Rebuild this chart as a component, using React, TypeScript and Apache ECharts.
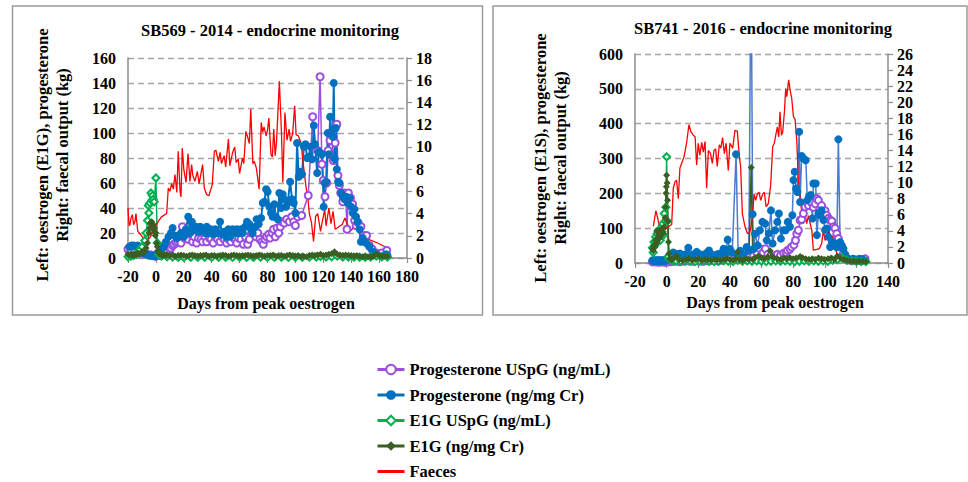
import React, { useEffect, useRef } from "react";
import * as echarts from "echarts";

// ---------- Legend / series names ----------
const seriesNames = [
  "Progesterone USpG (ng/mL)",
  "Progesterone (ng/mg Cr)",
  "E1G USpG (ng/mL)",
  "E1G (ng/mg Cr)",
  "Faeces",
];

// ---------- SB569 - 2014 (left panel) [day, value] ----------
const sb569ProgUSpG: [number, number][] = [
  [-20, 7], [-18, 6], [-15, 5], [-12, 4], [-9, 3.5], [-7, 3.5], [-4, 2.5], [-2, 2], [0, 1.5], [2, 2],
  [4.8, 4], [6.5, 5], [8.4, 5], [10, 7], [10.8, 8], [12, 10], [13, 11], [14.5, 12], [15.6, 13], [17, 14],
  [18, 12], [19, 25], [20.3, 16], [21.5, 20], [23.2, 15], [24.6, 19], [26.3, 13], [27.5, 17], [29.2, 12],
  [30.6, 16], [32.3, 15], [33.5, 13], [35.2, 17], [36.4, 13], [38.3, 16], [39.5, 15], [41.1, 12], [42.6, 17],
  [44.3, 15], [46, 13], [47.4, 17], [49, 15], [50.7, 12], [52.2, 15], [53.8, 13], [55, 17], [56.7, 15],
  [58, 12], [59.3, 16], [61, 15], [62.7, 11], [64.1, 17], [65.8, 11], [67, 15], [68.7, 20], [70.6, 19],
  [71.8, 17], [73, 20], [74.6, 15], [76, 13], [77, 11], [78.2, 15], [79.4, 17], [80.9, 19], [81.8, 16],
  [83.3, 20], [84.4, 23], [85.6, 17], [86.8, 24], [88, 20], [89.2, 25], [90.4, 29], [92, 28], [93.8, 31],
  [95.7, 29], [97.4, 33], [98.8, 29], [100, 26], [101.7, 33], [104.5, 34], [109.2, 50], [112.4, 113],
  [113.5, 88], [116, 86], [117.7, 145], [119, 75], [120, 62], [121.2, 49], [122.5, 60], [123.5, 86],
  [124.8, 94], [126, 100], [127.2, 78], [128.5, 92], [129.7, 107], [130.5, 66], [131.5, 58], [132.5, 52],
  [134, 45], [135, 52], [136, 50], [137, 23], [138, 52], [139.5, 48], [141, 43], [142.5, 30], [143.5, 26],
  [145, 28], [147, 25], [149, 18], [151, 18], [153, 10], [155, 7], [158, 4], [162, 4], [165.5, 6],
];

const sb569ProgCr: [number, number][] = [
  [-20.3, 8], [-19, 9], [-17.5, 10], [-16, 10], [-14.5, 9], [-13, 10], [-11, 6], [-9, 4], [-7, 3], [-5, 2],
  [-3.5, 2], [-2, 1.5], [-0.5, 1.3], [1.2, 4], [3, 6], [4.8, 8], [6, 10], [7.2, 13], [9, 17], [10.8, 20],
  [12, 24], [13.5, 18], [14.8, 16], [16.5, 18], [18, 20], [20, 17], [21.5, 23], [23.2, 33], [24.6, 20],
  [25.8, 29], [27.5, 23], [28.7, 25], [30.4, 21], [31.8, 25], [33.5, 23], [35.2, 20], [36.4, 25], [37.8, 20],
  [39.5, 23], [41, 19], [42.6, 23], [44.3, 20], [46, 29], [47.4, 19], [49, 21], [50.2, 17], [52, 23],
  [53.3, 17], [55, 23], [56.7, 20], [58, 23], [59.3, 20], [61, 23], [62.2, 20], [63.9, 25], [65.3, 29],
  [67, 27], [68.2, 23], [69.4, 20], [71.3, 25], [72.2, 31], [73.7, 27], [75.4, 32], [76.6, 44], [77.8, 45],
  [79, 55], [80.1, 53], [81.3, 41], [82.5, 36], [83.7, 33], [84.9, 43], [86, 33], [87.3, 31], [88.5, 52],
  [89.7, 40], [90.9, 51], [92, 47], [93.3, 41], [94.5, 44], [96.2, 61], [97.6, 47], [98.8, 44], [100, 36],
  [101.2, 92], [102.4, 65], [103.6, 69], [104.8, 67], [106, 89], [107.2, 91], [108.4, 80], [109.6, 81],
  [110.8, 89], [112, 79], [113.2, 106], [114.1, 91], [115.6, 68], [116.7, 85], [117.9, 84], [119.1, 83],
  [120.3, 41], [121, 60], [122, 61], [123.2, 100], [124, 83], [124.9, 113], [125.8, 101], [126.8, 97],
  [127.5, 140], [128.2, 79], [129, 104], [129.7, 71], [130.6, 61], [131.6, 60], [132.8, 52], [134, 49],
  [135.2, 47], [136.4, 49], [137.6, 44], [138.8, 48], [140, 41], [141.1, 36], [142.3, 39], [143.5, 33],
  [144.7, 29], [146, 23], [147, 13], [148.3, 16], [150.7, 12], [153, 9], [155.5, 5], [158, 3], [161.5, 1.3],
  [165, 3], [166, 2],
];

const sb569E1GUSpG: [number, number][] = [
  [-20, 1], [-18, 1.5], [-16, 2], [-14, 3], [-12, 6], [-10, 9], [-8, 14], [-7, 20], [-6, 30], [-5.4, 42],
  [-5, 36], [-4.3, 44], [-3.5, 52], [-3, 46], [-2.5, 50], [-1.9, 47], [-1.2, 45], [0, 64], [1, 12], [2, 3],
  [4, 1.5], [8, 1], [12, 0.8], [16, 0.6], [20, 0.5], [25, 0.6], [30, 0.5], [35, 0.6], [40, 0.5], [45, 0.5],
  [50, 0.6], [55, 0.5], [60, 0.6], [65, 0.5], [70, 0.5], [75, 0.6], [80, 0.5], [85, 0.5], [90, 0.6],
  [95, 0.5], [100, 0.5], [105, 0.6], [110, 0.7], [115, 0.8], [118, 1.2], [122, 0.8], [126, 1], [130, 1.5],
  [134, 0.8], [138, 0.8], [142, 0.7], [146, 0.6], [150, 0.6], [154, 0.8], [158, 1.5], [162, 1], [166, 0.8],
];

const sb569E1GCr: [number, number][] = [
  [-20, 3], [-19, 2.5], [-18, 3], [-17, 2], [-16, 3], [-15, 2.5], [-14, 3], [-13, 4], [-12, 3], [-11, 4],
  [-10, 5], [-9, 4], [-8, 6], [-7, 8], [-6, 12], [-5, 20], [-4.5, 24], [-4, 28], [-3.5, 27], [-3, 29],
  [-2.5, 25], [-2, 27], [-1.5, 22], [-1, 24], [-0.5, 18], [0, 20], [0.5, 12], [1, 9], [1.5, 6], [2, 4],
  [3, 3], [4, 2.5], [5, 2], [6, 3], [7, 2], [8, 2.5], [10, 2], [12, 2.5], [14, 1.5], [16, 2], [18, 2.5],
  [20, 2], [22, 1.5], [24, 2], [26, 2.5], [28, 2], [30, 1.5], [32, 2], [34, 2], [36, 2.5], [38, 1.5],
  [40, 2], [42, 2], [44, 1.5], [46, 2], [48, 2.5], [50, 2], [52, 1.5], [54, 2], [56, 2.5], [58, 2],
  [60, 1.5], [62, 2], [64, 2], [66, 2.5], [68, 2], [70, 1.5], [72, 2], [74, 2.5], [76, 2], [78, 1.5],
  [80, 2], [82, 2], [84, 2.5], [86, 1.5], [88, 2], [90, 2], [92, 1.5], [94, 2], [96, 2.5], [98, 2],
  [100, 1.5], [102, 2], [104, 1], [106, 1.5], [108, 1], [110, 2], [112, 2.5], [114, 2], [116, 2.5],
  [118, 3], [120, 2], [122, 2.5], [124, 3], [126, 3.5], [128, 5], [130, 3], [132, 2.5], [134, 2],
  [136, 2.5], [138, 2], [140, 2], [142, 1.5], [144, 2], [146, 1.5], [148, 1], [150, 1.5], [152, 1],
  [154, 1], [156, 1.5], [158, 3], [160, 2], [162, 1.5], [164, 1.5], [166, 1.5],
];

const sb569Faeces: [number, number][] = [
  [-20, 4.5], [-19.2, 2.9], [-18.6, 3.0], [-17.8, 3.6], [-16.9, 3.9], [-16, 3.0], [-15, 3.3], [-14.3, 4.0],
  [-13, 2.4], [-11, 2.1], [-9, 1.8], [-6.6, 1.45], [-4, 1.9], [-1, 2.7], [1.7, 3.3], [4, 3.7], [7.7, 4.0],
  [8.9, 6.3], [10, 6.0], [11.3, 6.7], [12.5, 6.2], [13.7, 7.5], [15, 5.9], [16, 9.6], [17.3, 6.0],
  [18, 5.5], [18.9, 9.9], [20, 8.0], [21.6, 6.8], [23, 9.4], [24.4, 6.9], [25.6, 8.4], [26.5, 7.4],
  [28, 6.9], [29.7, 7.8], [31, 6.7], [32.3, 7.6], [33.5, 8.4], [34.7, 6.3], [36.4, 5.7], [38, 5.6],
  [40.4, 6.6], [41.9, 9.6], [43, 9.7], [44.8, 8.7], [46, 9.5], [47, 8.5], [49, 9.2], [50, 8.2],
  [52, 10.7], [53, 8.3], [55, 9.5], [56.5, 10.0], [57.5, 8.6], [59, 8.9], [60, 7.6], [61, 8.3], [62, 9.0],
  [63, 8.5], [64.5, 11.4], [65.5, 11.0], [67, 10.3], [68, 13.4], [69.5, 8.5], [70.5, 8.7], [72, 8.1],
  [74, 6.2], [75.5, 12.2], [76.5, 11.3], [77.5, 11.8], [79, 11.0], [80, 11.5], [81, 12.6], [82.5, 9.3],
  [83.5, 9.1], [84.5, 11.6], [85.5, 9.2], [86.5, 10.5], [88.5, 15.9], [90, 11.3], [91, 6.8], [92.5, 13.1],
  [94, 10.6], [95.5, 11.6], [96.5, 10.5], [98, 11.2], [99.5, 13.7], [100.5, 11.1], [102, 11.0],
  [104, 10.4], [105.5, 8.6], [107.5, 6.5], [109, 5.3], [110, 4.0], [111.5, 3.2], [113, 1.5], [114.5, 3.75],
  [116, 4.0], [118, 2.4], [119, 3.1], [121, 4.35], [122, 2.9], [124, 4.5], [125.5, 3.1], [127, 4.2],
  [128.5, 2.6], [130, 2.7], [132, 2.9], [133.5, 3.0], [135.5, 3.6], [137, 3.1], [140, 2.5], [142, 2.8],
  [146, 2.2], [152, 1.7], [159, 1.35], [166, 0.9],
];

// ---------- SB741 - 2016 (right panel) [day, value] ----------
const sb741ProgUSpG: [number, number][] = [
  [-9, 3], [-7, 3], [-5, 2], [-3, 3], [-1, 2], [1, 3], [3, 4], [5, 5], [8, 4], [11, 5], [14, 6], [17, 5],
  [20, 6], [23, 5], [26, 6], [29, 7], [32, 6], [35, 8], [38, 12], [39.4, 17], [41, 20], [43, 15], [45, 18],
  [47, 22], [49, 17], [51, 20], [53, 25], [55, 22], [57, 30], [59, 41], [61, 30], [62.5, 41], [64, 25],
  [66, 22], [68, 20], [70, 25], [72, 22], [74, 28], [75.5, 30], [76.5, 36], [78, 40], [79, 46], [80.5, 52],
  [81.5, 65], [82.3, 84], [83.3, 94], [84.4, 123], [85.4, 125], [86.5, 142], [87.6, 161], [88.6, 175],
  [89.7, 165], [90.8, 180], [91.8, 172], [92.8, 160], [94, 170], [95, 185], [96, 180], [97, 156], [98, 165],
  [99.2, 142], [100.2, 150], [101.3, 137], [102.3, 128], [103.4, 123], [104.5, 120], [105.5, 104],
  [106.5, 100], [107.6, 84], [108.6, 70], [109.7, 56], [110.8, 45], [111.8, 27], [112.9, 20], [113.9, 10],
  [116, 8], [118, 8], [120, 6], [122, 8], [124, 10], [125.5, 12],
];

const sb741ProgCr: [number, number][] = [
  [-9, 7], [-8.5, 8], [-8, 6], [-7.5, 7], [-7, 8], [-6.5, 6], [-6, 7], [-5.5, 8], [-5, 6], [-4.5, 7],
  [-4, 8], [-3.5, 6], [-3, 7], [-2.5, 8], [-2, 7], [-1.5, 6], [-1, 8], [-0.5, 7], [0, 9], [1, 17], [2, 22],
  [3, 20], [4.2, 30], [5.5, 22], [7, 26], [8.5, 27], [10, 20], [12, 25], [13.7, 44], [15, 22], [17, 25],
  [19, 32], [21, 25], [23, 22], [25, 28], [26.8, 36], [28.5, 24], [30.5, 22], [32.5, 26], [34.5, 28],
  [36, 41], [37.5, 30], [38.6, 67], [40, 40], [41.5, 30], [43.9, 312], [45.3, 18], [46.5, 35], [48, 22],
  [50.6, 46], [52, 35], [53.4, 900], [54.4, 140], [55, 40], [55.9, 84], [57.5, 50], [59, 94], [60.6, 118],
  [62.3, 113], [63.3, 65], [64.6, 85], [66, 151], [67, 56], [68.6, 94], [70, 118], [71, 142], [72.3, 70],
  [73.8, 94], [75.3, 94], [76.6, 118], [78, 104], [79.5, 137], [80.2, 238], [81, 262], [81.9, 214],
  [82.7, 204], [83.8, 377], [84.4, 175], [85.4, 307], [86.5, 300], [88, 295], [89, 180], [90, 190],
  [91.1, 195], [92.2, 128], [92.8, 228], [94.3, 228], [95, 80], [96, 142], [97, 137], [98, 151],
  [99.2, 123], [100.2, 95], [101.3, 99], [102.3, 75], [103.4, 46], [104.5, 60], [105.5, 50], [106.5, 56],
  [107.6, 45], [108.6, 355], [109.7, 60], [110.8, 50], [111.8, 41], [112.9, 25], [113.9, 15], [116, 10],
  [118, 12], [120, 10], [122, 12], [124, 10], [125.5, 6],
];

const sb741E1GUSpG: [number, number][] = [
  [-9, 44], [-8.5, 30], [-8, 60], [-7.5, 50], [-7, 75], [-6.5, 60], [-6, 84], [-5.5, 70], [-5, 94],
  [-4.5, 80], [-4, 65], [-3.5, 100], [-3, 90], [-2.5, 113], [-2, 80], [-1.5, 142], [-1, 120], [-0.5, 160],
  [0, 305], [0.5, 120], [1, 17], [2, 10], [3, 12], [4, 8], [6, 6], [9, 5], [12, 6], [15, 5], [18, 4],
  [21, 5], [24, 6], [27, 5], [30, 4], [33, 5], [36, 6], [39, 5], [42, 4], [45, 8], [48, 5], [51, 6],
  [54, 5], [57, 6], [60, 5], [63, 4], [66, 5], [69, 6], [72, 5], [75, 6], [78, 5], [81, 4], [84, 5],
  [87, 6], [90, 5], [93, 6], [96, 5], [99, 6], [102, 5], [105, 8], [108, 10], [111, 15], [114, 8],
  [117, 6], [120, 5], [123, 4], [126, 4],
];

const sb741E1GCr: [number, number][] = [
  [-9, 41], [-8.5, 35], [-8, 50], [-7.5, 45], [-7, 65], [-6.5, 55], [-6.3, 92], [-6, 60], [-5.5, 75],
  [-5, 84], [-4.5, 70], [-4, 95], [-3.5, 80], [-3, 90], [-2.5, 100], [-2, 85], [-1.5, 104], [-1, 130],
  [-0.7, 161], [-0.4, 200], [-0.2, 219], [0, 252], [0.3, 230], [0.6, 180], [0.9, 120], [1.2, 60],
  [1.6, 27], [2, 12], [3, 10], [4, 12], [5, 15], [6, 20], [7, 14], [8, 10], [10, 8], [12, 10], [14, 12],
  [16, 8], [18, 10], [20, 12], [22, 8], [24, 10], [26, 9], [28, 8], [30, 10], [32, 9], [34, 8], [36, 10],
  [38, 12], [40, 10], [42, 8], [44, 12], [45, 32], [46, 10], [48, 8], [50, 12], [52, 10], [53.5, 274],
  [54.5, 10], [56, 15], [58, 20], [60, 15], [62, 12], [64, 18], [65.4, 35], [66.5, 20], [68, 15],
  [70, 12], [72, 10], [74, 14], [76, 12], [78, 15], [80, 12], [82, 14], [84.4, 19], [86, 15], [88, 12],
  [90, 10], [92, 12], [94, 10], [96, 14], [98, 12], [100, 10], [102, 12], [104, 14], [106, 10],
  [108, 20], [110, 14], [112, 10], [114, 8], [116, 6], [118, 5], [120, 4], [122, 5], [124, 4], [126, 4],
];

const sb741Faeces: [number, number][] = [
  [-8.4, 4.6], [-6.8, 6.5], [-5.3, 5.3], [-4.2, 3.7], [-3.5, 4.1], [-3, 3.9], [3.2, 4.8], [4.2, 9.3],
  [5.3, 10.1], [6.3, 10.3], [7.4, 8.0], [8.4, 11.8], [9.5, 12.4], [11, 13.2], [12.6, 14.9], [14.1, 17.2],
  [15.4, 16.3], [16.9, 15.9], [18, 15.7], [19, 12.2], [20, 14.9], [21, 13.4], [22.2, 15.0], [23.2, 13.8],
  [24.3, 15.1], [25.3, 9.3], [26.4, 14.0], [27.8, 13.6], [28.9, 12.4], [30, 14.0], [31, 14.2], [32, 12.0],
  [33.3, 14.7], [34.3, 14.3], [35.4, 15.6], [36.5, 13.6], [37.6, 14.9], [39, 11.5], [40, 14.9],
  [41.8, 14.3], [43.2, 16.5], [44.7, 16.4], [46, 13.2], [46.8, 12.0], [47.9, 6.1], [49.6, 4.5], [51, 3.7],
  [52.3, 3.7], [53.4, 4.5], [54.4, 6.1], [55.3, 8.6], [56.3, 7.8], [57.4, 8.6], [58.4, 8.8], [59.5, 7.8],
  [60.8, 8.6], [61.8, 8.8], [62.9, 7.0], [64.3, 7.4], [65.8, 9.7], [67.1, 14.5], [68.1, 14.9], [69.2, 16.1],
  [70, 16.9], [70.9, 15.7], [71.7, 18.8], [72.6, 15.9], [73.4, 16.3], [74.5, 18.8], [75.3, 21.7], [76, 20.7],
  [77.2, 22.8], [78.1, 21.5], [79.1, 20.5], [80.2, 18.2], [81.2, 17.9], [82.3, 15.3], [83.3, 10.3],
  [84.4, 8.2], [85.4, 6.4], [86.5, 4.9], [87.6, 6.1], [88.6, 4.9], [89.7, 5.9], [90.8, 4.9], [91.8, 4.1],
  [92.8, 1.6], [95, 1.7], [96.6, 1.8], [98, 2.4], [99.2, 4.1], [100.2, 2.8], [101.3, 3.4], [102.7, 4.1],
  [103.8, 2.8], [105, 3.4], [106.5, 2.0], [107.6, 1.2], [108.6, 0.75], [110.8, 0.75], [111.8, 0.33],
];

// ---------- Styling ----------
const FONT = '"Liberation Serif", "Times New Roman", serif';
const AXIS_GRAY = "#8C8C8C";
const GRID_GRAY = "#A6A6A6";
const PURPLE = "#9B4FE0";
const BLUE = "#0070C0";
const BLUE_LIGHT = "#4A7BD0";
const GREEN = "#00B050";
const DKGREEN = "#3B5E22";
const RED = "#FF0000";

const tickLabel = { fontFamily: FONT, fontSize: 16, fontWeight: "bold" as const, color: "#000" };

function xAxis(gridIndex: number, min: number, max: number) {
  return {
    type: "value",
    gridIndex,
    min,
    max,
    interval: 20,
    axisLine: { show: true, onZero: false, lineStyle: { color: AXIS_GRAY, width: 1.5 } },
    axisTick: { show: true, inside: false, length: 5, lineStyle: { color: AXIS_GRAY, width: 1.2 } },
    axisLabel: { ...tickLabel, margin: 10 },
    splitLine: { show: false },
  };
}

function yLeft(gridIndex: number, max: number, interval: number) {
  return {
    type: "value",
    gridIndex,
    position: "left",
    min: 0,
    max,
    interval,
    axisLine: { show: true, onZero: false, lineStyle: { color: AXIS_GRAY, width: 1.5 } },
    axisTick: { show: false },
    axisLabel: { ...tickLabel, margin: 12 },
    splitLine: { show: true, lineStyle: { color: GRID_GRAY, width: 1.3, type: [6, 4] } },
  };
}

function yRight(gridIndex: number, max: number, interval: number) {
  return {
    type: "value",
    gridIndex,
    position: "right",
    min: 0,
    max,
    interval,
    axisLine: { show: true, onZero: false, lineStyle: { color: AXIS_GRAY, width: 1.5 } },
    axisTick: { show: true, inside: false, length: 5, lineStyle: { color: AXIS_GRAY, width: 1.2 } },
    axisLabel: { ...tickLabel, margin: 9 },
    splitLine: { show: false },
  };
}

function mkSeries(panel: number, data: any) {
  const xi = panel;
  const yl = panel * 2;
  const yr = panel * 2 + 1;
  return [
    {
      name: seriesNames[0], type: "line", xAxisIndex: xi, yAxisIndex: yl, data: data.progUSpG,
      symbol: "emptyCircle", symbolSize: 7,
      lineStyle: { color: PURPLE, width: 1.5 },
      itemStyle: { color: PURPLE, borderColor: PURPLE, borderWidth: 1.3 },
    },
    {
      name: seriesNames[1], type: "line", xAxisIndex: xi, yAxisIndex: yl, data: data.progCr,
      symbol: "circle", symbolSize: 8,
      lineStyle: { color: panel === 0 ? BLUE : BLUE_LIGHT, width: panel === 0 ? 2 : 1.5 },
      itemStyle: { color: BLUE },
    },
    {
      name: seriesNames[2], type: "line", xAxisIndex: xi, yAxisIndex: yl, data: data.e1gUSpG,
      symbol: "emptyDiamond", symbolSize: 7,
      lineStyle: { color: GREEN, width: 1.5 },
      itemStyle: { color: GREEN, borderColor: GREEN, borderWidth: 1.2 },
    },
    {
      name: seriesNames[3], type: "line", xAxisIndex: xi, yAxisIndex: yl, data: data.e1gCr,
      symbol: "diamond", symbolSize: 7,
      lineStyle: { color: DKGREEN, width: 1.5 },
      itemStyle: { color: DKGREEN },
    },
    {
      name: seriesNames[4], type: "line", xAxisIndex: xi, yAxisIndex: yr, data: data.faeces,
      symbol: "none",
      lineStyle: { color: RED, width: 1.3 },
      itemStyle: { color: RED },
    },
  ];
}

const yTitle = "Left: oestrogen (E1G), progesterone\nRight: faecal output (kg)";
const yTitle2 = "Left: oestrogen (E1S), progesterone\nRight: faecal output (kg)";
const xTitle = "Days from peak oestrogen";
const title1 = "SB569 - 2014 - endocrine monitoring";
const title2 = "SB741 - 2016 - endocrine monitoring";

export default function App() {
  const ref = useRef<HTMLDivElement>(null);
  useEffect(() => {
    if (!ref.current) return;
    const chart = echarts.init(ref.current, undefined, { renderer: "svg" });
    const textBold = (x: number, y: number, text: string, size: number, rotation = 0) => ({
      type: "text",
      x,
      y,
      rotation,
      silent: true,
      style: {
        text,
        fontFamily: FONT,
        fontSize: size,
        fontWeight: "bold",
        fill: "#000",
        textAlign: "center",
        textVerticalAlign: "middle",
        lineHeight: 20,
      },
    });
    const option: any = {
      animation: false,
      backgroundColor: "#fff",
      textStyle: { fontFamily: FONT },
      grid: [
        { left: 128, top: 58, width: 279, height: 200 },
        { left: 635, top: 54, width: 253, height: 209 },
      ],
      xAxis: [xAxis(0, -20, 180), xAxis(1, -20, 140)],
      yAxis: [yLeft(0, 160, 20), yRight(0, 18, 2), yLeft(1, 600, 100), yRight(1, 26, 2)],
      legend: {
        orient: "vertical",
        left: 376,
        top: 361,
        padding: 0,
        itemGap: 8.5,
        itemWidth: 27,
        itemHeight: 12,
        data: [
          seriesNames[0],
          seriesNames[1],
          seriesNames[2],
          seriesNames[3],
          { name: seriesNames[4], itemStyle: { opacity: 0 } },
        ],
        selectedMode: false,
        lineStyle: { width: 3 },
        textStyle: { fontFamily: FONT, fontSize: 16.5, fontWeight: "bold", color: "#000", lineHeight: 17 },
      },
      graphic: [
        { type: "rect", silent: true, shape: { x: 12.5, y: 6, width: 470, height: 309 }, style: { fill: "none", stroke: "#9A9A9A", lineWidth: 1.5 } },
        { type: "rect", silent: true, shape: { x: 493, y: 6, width: 474, height: 309 }, style: { fill: "none", stroke: "#9A9A9A", lineWidth: 1.5 } },
        textBold(270, 30, title1, 16.5),
        textBold(763, 28, title2, 16.5),
        textBold(266, 303, xTitle, 16),
        textBold(775, 302, xTitle, 16),
        textBold(52, 155, yTitle, 16.5, Math.PI / 2),
        textBold(550, 158, yTitle2, 16.5, Math.PI / 2),
      ],
      series: [
        ...mkSeries(0, {
          progUSpG: sb569ProgUSpG, progCr: sb569ProgCr, e1gUSpG: sb569E1GUSpG, e1gCr: sb569E1GCr, faeces: sb569Faeces,
        }),
        ...mkSeries(1, {
          progUSpG: sb741ProgUSpG, progCr: sb741ProgCr, e1gUSpG: sb741E1GUSpG, e1gCr: sb741E1GCr, faeces: sb741Faeces,
        }),
      ],
    };
    chart.setOption(option);
    return () => chart.dispose();
  }, []);
  return (
    <div
      ref={ref}
      style={{ position: "fixed", left: 0, top: 0, width: 968, height: 482, background: "#fff" }}
    />
  );
}
